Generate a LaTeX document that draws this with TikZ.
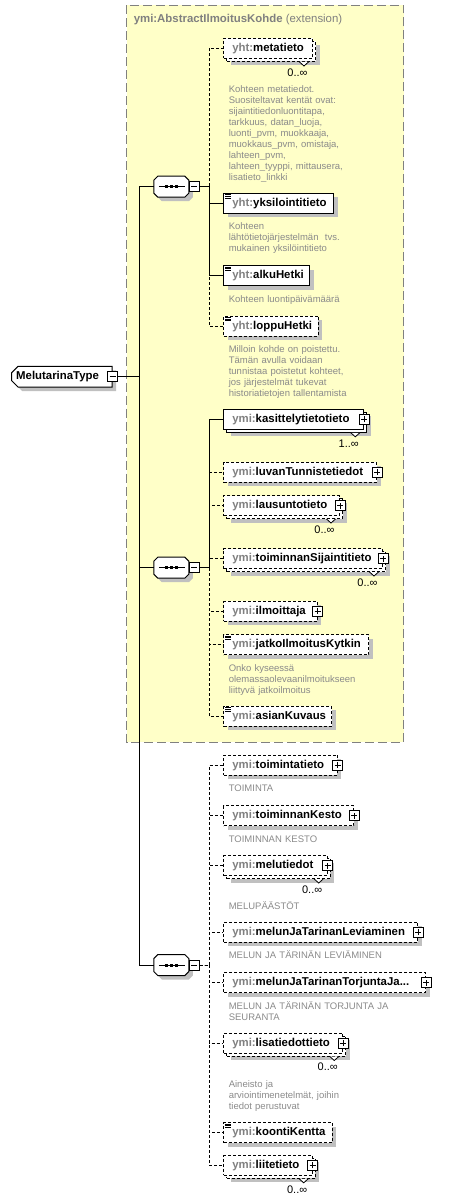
\documentclass[tikz,border=0pt]{standalone}
\usepackage{fontspec}
\setmainfont{Liberation Sans}
\usetikzlibrary{positioning,shapes.misc,shadows}
\definecolor{yellowbg}{RGB}{255,255,200}
\definecolor{framegray}{RGB}{128,128,128}
\definecolor{prefixgray}{RGB}{128,128,128}
\definecolor{docgray}{RGB}{138,138,138}
\definecolor{shadowgray}{RGB}{192,192,192}
\newcommand\lblfont{\fontsize{11.4}{13}\selectfont\bfseries}
\newcommand\docfont{\fontsize{9.5}{11}\selectfont}
\newcommand\pfx[1]{\textcolor{prefixgray}{#1:}}
\newcommand\docmark[1]{\draw[line width=0.6pt] ([shift={(2,1.8)}]#1.north west) -- ++(5.5,0) ([shift={(2,3.5)}]#1.north west) -- ++(5.5,0) ([shift={(2,5.2)}]#1.north west) -- ++(5.5,0);}
\newcommand\notch[1]{\draw[line width=0.8pt,fill=white] ([shift={(-13.5,3)}]#1.south east) -- ++(4.5,4) -- ++(4.5,-4);}
\newcommand\seqlook[1]{%
  \fill[shadowgray] ([shift={(8,4)}]#1.north west) -- ([shift={(0,4)}]#1.north east) -- ([shift={(4,8)}]#1.north east) -- ([shift={(4,0)}]#1.south east) -- ([shift={(0,4)}]#1.south east) -- ([shift={(8,4)}]#1.south west) -- ([shift={(4,0)}]#1.south west) -- ([shift={(4,8)}]#1.north west) -- cycle;
  \draw[fill=white] ([xshift=4pt]#1.north west) -- ([xshift=-4pt]#1.north east) -- ([yshift=-4pt]#1.north east) -- ([yshift=4pt]#1.south east) -- ([xshift=-4pt]#1.south east) -- ([xshift=4pt]#1.south west) -- ([yshift=4pt]#1.south west) -- ([yshift=-4pt]#1.north west) -- cycle;
  \draw[line width=0.8pt] ([xshift=5pt]#1.west) -- ([xshift=-4pt]#1.east);
  \foreach \d in {-5,0,5} \fill ([xshift=\d pt]#1.center) +(-1.5,-1.5) rectangle +(1.5,1.5);}
\tikzset{
  elem/.style={draw,fill=white,anchor=west,align=left,inner xsep=8.5pt,inner ysep=0pt,
    minimum height=20pt,text height=8pt,text depth=2pt,font=\lblfont},
  single/.style={drop shadow={shadow xshift=4pt,shadow yshift=-4pt,fill=shadowgray,opacity=1}},
  multi/.style={drop shadow={shadow xshift=7pt,shadow yshift=-7pt,fill=shadowgray,opacity=1},
    copy shadow={shadow xshift=3pt,shadow yshift=-3pt,draw,fill=white,#1}},
  multi/.default=solid,
  opt/.style={dash pattern=on 3pt off 2pt},
  doc/.style={inner sep=0pt,align=left,text width=200pt,font=\docfont,text=docgray},
  mult/.style={anchor=east,inner sep=0pt,font=\fontsize{11}{13}\selectfont},
  pmbox/.style={draw,fill=white,minimum size=10pt,inner sep=0pt,line width=0.8pt},
  minusbox/.style={pmbox,path picture={\draw[line width=0.8pt] ([xshift=2pt]path picture bounding box.west) -- ([xshift=-2pt]path picture bounding box.east);}},
  plusbox/.style={pmbox,path picture={\draw[line width=0.8pt] ([xshift=2pt]path picture bounding box.west) -- ([xshift=-2pt]path picture bounding box.east) ([yshift=2pt]path picture bounding box.south) -- ([yshift=-2pt]path picture bounding box.north);}},
  seq/.style={minimum width=34pt,minimum height=20pt,inner sep=0pt},
  typebox/.style={chamfered rectangle,chamfered rectangle corners={north west,south west},chamfered rectangle xsep=3pt,
    draw,fill=white,anchor=west,minimum width=100.7pt,minimum height=20.6pt,text width=91.3pt,align=left,
    inner xsep=1pt,inner ysep=0pt,text height=8pt,text depth=2pt,font=\lblfont,single}
}
\begin{document}
\begin{tikzpicture}[x=1pt,y=-1pt,line width=1pt]
\useasboundingbox (0,0) rectangle (453,1201);
% base type
\draw[fill=yellowbg,draw=framegray,dash pattern=on 9pt off 4pt] (126.5,5.5) rectangle (403.5,742);
\node[anchor=base west,inner sep=0pt,font=\lblfont,text=prefixgray] (basetitle) at (133.3,22.3) {ymi:AbstractIlmoitusKohde {\mdseries (extension)}};
% the type and its sequences
\node[typebox] (type) at (11,376.7) {MelutarinaType};
\node[minusbox] (typem) at (type.east) {};
\coordinate (trunk) at (139.3,376.7);
\node[seq] (seqA) at (171.3,186.7) {};
\seqlook{seqA}
\node[minusbox,anchor=west] (seqAm) at (seqA.east) {};
\node[seq] (seqB) at (171.3,567.7) {};
\seqlook{seqB}
\node[minusbox,anchor=west] (seqBm) at (seqB.east) {};
\node[seq] (seqC) at (171.3,965) {};
\seqlook{seqC}
\node[minusbox,anchor=west] (seqCm) at (seqC.east) {};
\draw (typem.east) -- (trunk);
\draw (trunk) |- (seqA.west);
\draw (trunk) |- (seqB.west);
\draw (trunk) |- (seqC.west);
% first sequence
\node[elem,opt,multi=opt,text width=71.7pt] (metatieto) at (223.3,48.5) {\pfx{yht}metatieto};
\node[elem,single,text width=93pt] (yksilointitieto) at (223.3,203.3) {\pfx{yht}yksilointitieto};
\node[elem,single,text width=69pt] (alkuHetki) at (223.3,275.7) {\pfx{yht}alkuHetki};
\node[elem,opt,single,text width=77.4pt] (loppuHetki) at (223.3,326) {\pfx{yht}loppuHetki};
\notch{metatieto}
\node[mult] (metatietoMult) at ([shift={(-5,13.5)}]metatieto.south east) {0..∞};
\docmark{yksilointitieto}
\docmark{alkuHetki}
\docmark{loppuHetki}
\node[doc,below right=25.5pt and 5pt of metatieto.south west] (metatietoDoc) {\strut Kohteen metatiedot.\\Suositeltavat kentät ovat:\\sijaintitiedonluontitapa,\\tarkkuus, datan\_luoja,\\luonti\_pvm, muokkaaja,\\muokkaus\_pvm, omistaja,\\lahteen\_pvm,\\lahteen\_tyyppi, mittausera,\\lisatieto\_linkki};
\node[doc,below right=7.7pt and 5pt of yksilointitieto.south west] (yksilointitietoDoc) {\strut Kohteen\\lähtötietojärjestelmän \ tvs.\\mukainen yksilöintitieto};
\node[doc,below right=7.7pt and 5pt of alkuHetki.south west] (alkuHetkiDoc) {\strut Kohteen luontipäivämäärä};
\node[doc,below right=7.7pt and 5pt of loppuHetki.south west] (loppuHetkiDoc) {\strut Milloin kohde on poistettu.\\Tämän avulla voidaan\\tunnistaa poistetut kohteet,\\jos järjestelmät tukevat\\historiatietojen tallentamista};
\coordinate (busA) at ([xshift=9.6pt]seqAm.east);
\draw[opt] (seqAm.east) -- (busA) |- (metatieto.west);
\draw[opt] (seqAm.east) -- (busA) |- (loppuHetki.west);
\draw (seqAm.east) -- (busA) |- (yksilointitieto.west);
\draw (seqAm.east) -- (busA) |- (alkuHetki.west);
% second sequence
\node[elem,multi,text width=123pt] (kasittely) at (223.3,419.3) {\pfx{ymi}kasittelytietotieto};
\node[elem,opt,single,text width=135.7pt] (luvan) at (223.3,472) {\pfx{ymi}luvanTunnistetiedot};
\node[elem,opt,multi=opt,text width=98.7pt] (lausunto) at (223.3,505.5) {\pfx{ymi}lausuntotieto};
\node[elem,opt,multi=opt,text width=141.7pt] (sijainti) at (223.3,558.5) {\pfx{ymi}toiminnanSijaintitieto};
\node[elem,opt,single,text width=76.4pt] (ilmoittaja) at (223.3,611.3) {\pfx{ymi}ilmoittaja};
\node[elem,opt,single,text width=128pt] (jatko) at (223.3,644.7) {\pfx{ymi}jatkoIlmoitusKytkin};
\node[elem,opt,single,text width=90.7pt] (asian) at (223.3,716.3) {\pfx{ymi}asianKuvaus};
\notch{kasittely}
\notch{lausunto}
\notch{sijainti}
\node[plusbox] (kasittelyP) at (kasittely.east) {};
\node[plusbox] (luvanP) at (luvan.east) {};
\node[plusbox] (lausuntoP) at (lausunto.east) {};
\node[plusbox] (sijaintiP) at (sijainti.east) {};
\node[plusbox] (ilmoittajaP) at (ilmoittaja.east) {};
\node[mult] (kasittelyMult) at ([shift={(-5,13.5)}]kasittely.south east) {1..∞};
\node[mult] (lausuntoMult) at ([shift={(-5,13.5)}]lausunto.south east) {0..∞};
\node[mult] (sijaintiMult) at ([shift={(-5,13.5)}]sijainti.south east) {0..∞};
\docmark{jatko}
\docmark{asian}
\node[doc,below right=7.7pt and 5pt of jatko.south west] (jatkoDoc) {\strut Onko kyseessä\\olemassaolevaanilmoitukseen\\liittyvä jatkoilmoitus};
\coordinate (busB) at ([xshift=9.6pt]seqBm.east);
\draw[opt] (seqBm.east) -- (busB) |- (luvan.west);
\draw[opt] (seqBm.east) -- (busB) |- (lausunto.west);
\draw[opt] (seqBm.east) -- (busB) |- (sijainti.west);
\draw[opt] (seqBm.east) -- (busB) |- (ilmoittaja.west);
\draw[opt] (seqBm.east) -- (busB) |- (jatko.west);
\draw[opt] (seqBm.east) -- (busB) |- (asian.west);
\draw (seqBm.east) -- (busB) |- (kasittely.west);
% third sequence
\node[elem,opt,single,text width=96.4pt] (toiminta) at (223.3,765) {\pfx{ymi}toimintatieto};
\node[elem,opt,single,text width=113pt] (kesto) at (223.3,815.7) {\pfx{ymi}toiminnanKesto};
\node[elem,opt,multi=opt,text width=86.4pt] (melutiedot) at (223.3,865.5) {\pfx{ymi}melutiedot};
\node[elem,opt,single,text width=177pt] (leviaminen) at (223.3,932.3) {\pfx{ymi}melunJaTarinanLeviaminen};
\node[elem,opt,single,text width=184.7pt] (torjunta) at (223.3,982.7) {\pfx{ymi}melunJaTarinanTorjuntaJa...};
\node[elem,opt,multi=opt,text width=102pt] (lisatiedot) at (223.3,1043) {\pfx{ymi}lisatiedottieto};
\node[elem,opt,single,text width=91.4pt] (koonti) at (223.3,1132.7) {\pfx{ymi}koontiKentta};
\node[elem,opt,multi=opt,text width=71.4pt] (liite) at (223.3,1165.3) {\pfx{ymi}liitetieto};
\notch{melutiedot}
\notch{lisatiedot}
\notch{liite}
\node[plusbox] (toimintaP) at (toiminta.east) {};
\node[plusbox] (kestoP) at (kesto.east) {};
\node[plusbox] (melutiedotP) at (melutiedot.east) {};
\node[plusbox] (leviaminenP) at (leviaminen.east) {};
\node[plusbox] (torjuntaP) at (torjunta.east) {};
\node[plusbox] (lisatiedotP) at (lisatiedot.east) {};
\node[plusbox] (liiteP) at (liite.east) {};
\node[mult] (melutiedotMult) at ([shift={(-5,13.5)}]melutiedot.south east) {0..∞};
\node[mult] (lisatiedotMult) at ([shift={(-5,13.5)}]lisatiedot.south east) {0..∞};
\node[mult] (liiteMult) at ([shift={(-5,13.5)}]liite.south east) {0..∞};
\docmark{koonti}
\node[doc,below right=7.7pt and 5pt of toiminta.south west] (toimintaDoc) {\strut TOIMINTA};
\node[doc,below right=7.7pt and 5pt of kesto.south west] (kestoDoc) {\strut TOIMINNAN KESTO};
\node[doc,below right=25pt and 5pt of melutiedot.south west] (melutiedotDoc) {\strut MELUPÄÄSTÖT};
\node[doc,below right=7.7pt and 5pt of leviaminen.south west] (leviaminenDoc) {\strut MELUN JA TÄRINÄN LEVIÄMINEN};
\node[doc,below right=7.7pt and 5pt of torjunta.south west] (torjuntaDoc) {\strut MELUN JA TÄRINÄN TORJUNTA JA\\SEURANTA};
\node[doc,below right=26pt and 5pt of lisatiedot.south west] (lisatiedotDoc) {\strut Aineisto ja\\arviointimenetelmät, joihin\\tiedot perustuvat};
\coordinate (busC) at ([xshift=9.6pt]seqCm.east);
\draw[opt] (seqCm.east) -- (busC) |- (toiminta.west);
\draw[opt] (seqCm.east) -- (busC) |- (kesto.west);
\draw[opt] (seqCm.east) -- (busC) |- (melutiedot.west);
\draw[opt] (seqCm.east) -- (busC) |- (leviaminen.west);
\draw[opt] (seqCm.east) -- (busC) |- (torjunta.west);
\draw[opt] (seqCm.east) -- (busC) |- (lisatiedot.west);
\draw[opt] (seqCm.east) -- (busC) |- (koonti.west);
\draw[opt] (seqCm.east) -- (busC) |- (liite.west);
\end{tikzpicture}
\end{document}
